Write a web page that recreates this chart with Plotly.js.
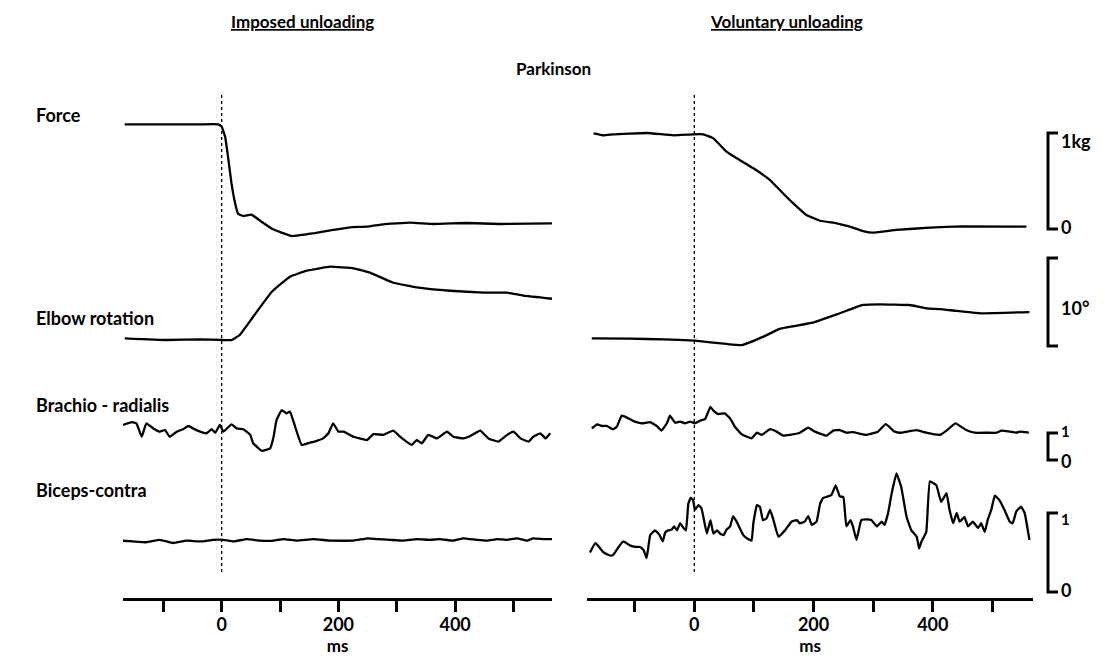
<!DOCTYPE html>
<html>
<head>
<meta charset="utf-8">
<script src="https://cdn.plot.ly/plotly-3.0.1.min.js"></script>
<style>html,body{margin:0;padding:0;background:#fff;}#chart{width:1107px;height:666px;}</style>
</head>
<body>
<div id="chart"></div>
<script>
// ---------------- DATA (time in ms, values in channel units) ----------------
const panelTitles = ["Imposed unloading", "Voluntary unloading"];
const groupTitle = "Parkinson";
const channelNames = ["Force", "Elbow rotation", "Brachio - radialis", "Biceps-contra"];
const tickVals = [-100, 0, 100, 200, 300, 400, 500];
const tickText = ["", "0", "", "200", "", "400", ""];

// Force (kg) – imposed
const forceImpT = [-166,-106,-37,-6,0,6,11,17,23,28,37,51,66,88,120,157,191,220,249,277,323,363,420,477,566];
const forceImpV = [1.09,1.09,1.09,1.09,1.066,0.96,0.75,0.47,0.27,0.16,0.135,0.15,0.086,-0.003,-0.073,-0.045,-0.01,0.018,0.024,0.049,0.066,0.052,0.0625,0.052,0.059];
// Force (kg) – voluntary
const forceVolT = [-169,-152,-136,-80,-35,-2,15,32,54,71,99,127,149,166,188,211,239,261,283,300,339,395,451,557];
const forceVolV = [0.997,0.976,0.986,1.0,0.976,0.986,0.986,0.944,0.805,0.736,0.632,0.51,0.37,0.267,0.146,0.086,0.059,0.024,-0.021,-0.038,-0.01,0.014,0.028,0.024];

// Elbow rotation (deg) – imposed
const elbowImpT = [-166,-94,-37,3,17,31,54,86,117,146,186,226,254,294,334,392,449,489,517,566];
const elbowImpV = [0.87,0.68,0.76,0.68,0.68,1.25,3.33,6.16,7.88,8.56,9.01,8.83,8.33,7.19,6.67,6.28,6.06,6.06,5.72,5.37];
// Elbow rotation (deg) – voluntary
const elbowVolT = [-172,-108,-52,1,54,80,116,144,199,244,283,311,361,389,412,440,479,562];
const elbowVolV = [0.87,0.83,0.76,0.6,0.23,0.11,1.06,1.97,2.65,3.72,4.66,4.74,4.66,4.28,4.2,3.98,3.72,3.86];

// Brachio-radialis EMG – imposed
const brachImpT = [-169,-154,-146,-137,-129,-117,-106,-97,-89,-77,-66,-57,-49,-37,-26,-17,-11,-3,3,17,26,37,49,54,69,83,89,94,103,111,117,126,137,151,163,174,183,191,200,209,226,249,260,277,294,306,326,334,343,354,369,386,397,414,426,443,457,474,489,500,512,526,534,546,555,563];
const brachImpV = [1.30,1.40,1.36,0.86,1.36,1.17,1.05,1.11,0.86,1.05,1.14,1.26,1.17,1.05,0.99,1.14,1.01,1.30,1.05,1.32,1.17,1.14,0.93,0.62,0.34,0.43,0.86,1.48,1.85,1.73,1.79,1.23,0.56,0.64,0.71,0.80,0.99,1.36,1.05,1.05,0.86,0.74,0.96,0.93,1.09,0.86,0.56,0.74,0.62,0.93,0.80,1.05,0.86,0.80,0.89,1.09,0.80,0.68,0.93,1.05,0.80,0.68,0.86,0.99,0.80,0.99];
// Brachio-radialis EMG – voluntary
const brachVolT = [-172,-163,-155,-147,-137,-130,-122,-113,-102,-88,-74,-63,-55,-46,-41,-32,-24,-16,-7,1,10,18,27,32,40,51,60,68,79,96,105,113,127,138,149,160,177,191,202,222,233,244,255,266,289,308,321,336,345,373,389,412,423,438,456,470,490,507,515,529,540,546,561];
const brachVolV = [1.17,1.32,1.26,1.26,1.14,1.23,1.64,1.57,1.44,1.36,1.40,1.26,1.09,1.36,1.64,1.38,1.42,1.36,1.42,1.36,1.46,1.51,1.97,1.83,1.70,1.73,1.54,1.23,0.96,0.80,1.01,0.93,1.14,1.05,0.90,0.93,1.01,1.20,1.05,0.90,1.09,1.11,1.01,1.03,0.93,1.05,1.33,1.05,1.01,1.11,1.01,0.93,1.09,1.36,1.11,1.01,1.01,1.01,1.09,1.05,1.01,1.05,1.01];

// Biceps-contra EMG – imposed
const bicepImpT = [-172,-152,-129,-106,-83,-60,-37,-14,3,20,43,66,89,106,129,157,186,226,251,266,289,311,334,357,374,397,414,437,455,472,489,506,523,534,552,567];
const bicepImpV = [0.65,0.64,0.63,0.66,0.62,0.65,0.64,0.66,0.66,0.64,0.67,0.65,0.65,0.67,0.65,0.67,0.65,0.65,0.68,0.67,0.66,0.65,0.67,0.66,0.67,0.65,0.68,0.66,0.65,0.67,0.66,0.68,0.65,0.68,0.67,0.67];
// Biceps-contra EMG – voluntary
const bicepVolT = [-175,-166,-152,-141,-136,-127,-119,-108,-99,-91,-85,-80,-74,-66,-59,-53,-49,-44,-38,-34,-29,-24,-18,-14,-10,-6,-2,1,7,12,21,27,32,38,43,49,54,60,65,71,82,90,96,99,105,110,115,121,127,132,141,152,163,172,177,185,191,197,205,211,216,224,230,237,244,250,255,262,266,272,280,289,297,306,314,319,325,331,339,347,356,364,373,377,381,389,395,406,414,423,428,434,440,445,453,459,467,476,481,487,492,498,504,512,520,529,534,540,548,554,562];
const bicepVolV = [0.50,0.62,0.50,0.46,0.47,0.57,0.64,0.59,0.57,0.57,0.53,0.43,0.72,0.78,0.73,0.64,0.75,0.78,0.79,0.83,0.78,0.87,0.81,0.78,1.12,1.19,1.16,1.04,1.10,1.06,0.74,0.91,0.74,0.78,0.74,0.72,0.79,0.83,0.96,0.89,0.72,0.67,0.65,0.87,1.10,1.08,0.91,0.93,1.04,0.93,0.70,0.78,0.89,0.91,0.87,0.89,0.96,0.85,0.89,1.12,1.19,1.21,1.23,1.35,1.21,1.20,0.83,0.91,0.83,0.66,0.91,0.92,0.91,0.83,0.89,0.85,1.00,1.25,1.50,1.33,0.95,0.78,0.70,0.55,0.64,0.76,1.40,1.35,1.14,1.25,1.04,0.87,1.00,0.89,0.95,0.83,0.89,0.81,0.87,0.76,0.91,1.04,1.22,1.16,1.04,0.89,0.87,1.02,1.08,1.00,0.66];

// Scale bars (channel units)
const scaleLabels = [["1kg","0"],["10°",""],["1","0"],["1","0"]];
const scaleSpans = [[0,1],[0,10],[0,1],[0,1]];

// ---------------- LAYOUT HELPERS (pixel calibration) ----------------
const W = 1107, H = 666;
const px = x => x / W;
const py = y => 1 - y / H;
// [top px, bottom px, pixel of value 0, pixels per unit]
const rowCal = [[95,245,229,96],[250,355,346,8.8],[395,470,460,27],[470,600,592,79]];
function yAx(c){
  const [top,bot,zero,k] = c;
  return {domain:[py(bot),py(top)], range:[(zero-bot)/k,(zero-top)/k], visible:false, fixedrange:true};
}
const font = "Lato, DejaVu Sans, Arial, sans-serif";
const fw = 'bold';
function xAx(d0,d1,r0,r1){
  return {domain:[px(d0),px(d1)], range:[r0,r1], anchor:'free', position:py(599),
    showline:true, linewidth:3, linecolor:'#000', ticks:'outside', ticklen:11, tickwidth:3, tickcolor:'#000',
    tickmode:'array', tickvals:tickVals, ticktext:tickText, showgrid:false, zeroline:false,
    ticklabelstandoff:-3,
    tickfont:{family:font,size:18,color:'#000',weight:fw},
    title:{text:'ms', font:{family:font,size:17,color:'#000',weight:fw}, standoff:1}, fixedrange:true};
}

const series = [
  [forceImpT,forceImpV,forceVolT,forceVolV],
  [elbowImpT,elbowImpV,elbowVolT,elbowVolV],
  [brachImpT,brachImpV,brachVolT,brachVolV],
  [bicepImpT,bicepImpV,bicepVolT,bicepVolV]
];
const traces = [];
series.forEach((s,i)=>{
  const ya = i===0 ? 'y' : 'y'+(i+1);
  traces.push({x:s[0], y:s[1], xaxis:'x', yaxis:ya, mode:'lines', line:{color:'#000', width:2.3, shape:'spline', smoothing:0.3}, hoverinfo:'skip'});
  traces.push({x:s[2], y:s[3], xaxis:'x2', yaxis:ya, mode:'lines', line:{color:'#000', width:2.3, shape:'spline', smoothing:0.3}, hoverinfo:'skip'});
});

const layout = {
  width:W, height:H, margin:{l:0,r:0,t:0,b:0},
  paper_bgcolor:'#fff', plot_bgcolor:'rgba(0,0,0,0)', showlegend:false,
  font:{family:font, color:'#000', size:18, weight:fw},
  xaxis: xAx(123,552,-169,566),
  xaxis2: xAx(587,1033,-180,568),
  yaxis: yAx(rowCal[0]), yaxis2: yAx(rowCal[1]), yaxis3: yAx(rowCal[2]), yaxis4: yAx(rowCal[3]),
  shapes: [], annotations: []
};
// dotted zero lines
['x','x2'].forEach(xr=>{
  layout.shapes.push({type:'line', xref:xr, yref:'paper', x0:0, x1:0, y0:py(572), y1:py(93), line:{color:'#000', width:1.3, dash:'dot'}});
});
// scale bars
const barX0 = px(1048), barX1 = px(1058);
scaleSpans.forEach((sp,i)=>{
  const yr = i===0 ? 'y' : 'y'+(i+1);
  layout.shapes.push({type:'path', xref:'paper', yref:yr,
    path:`M ${barX1},${sp[1]} L ${barX0},${sp[1]} L ${barX0},${sp[0]} L ${barX1},${sp[0]}`,
    line:{color:'#000', width:3}});
  const [lt,lb] = scaleLabels[i];
  const f = {family:font, size:18, color:'#000', weight:fw};
  const fs = {family:font, size:15, color:'#000', weight:fw};
  if(i===1){
    layout.annotations.push({xref:'paper', yref:yr, x:px(1059), y:(sp[0]+sp[1])/2, text:lt, showarrow:false, xanchor:'left', yanchor:'middle', yshift:-6, font:f});
  } else {
    layout.annotations.push({xref:'paper', yref:yr, x:px(1059), y:sp[1], text:lt, showarrow:false, xanchor:'left', yanchor:'middle', yshift:i===0?-8:(i===2?2:-6), font:i===0?f:fs});
    layout.annotations.push({xref:'paper', yref:yr, x:px(1059), y:sp[0], text:lb, showarrow:false, xanchor:'left', yanchor:'middle', yshift:i===2?-1:2, font:f});
  }
});
// channel names
const namePos = [115, 318, 405, 490];
channelNames.forEach((n,i)=>{
  layout.annotations.push({xref:'paper', yref:'paper', x:px(34), y:py(namePos[i]), text:n, showarrow:false, xanchor:'left', yanchor:'middle', font:{family:font,size:18,weight:fw}});
});
// titles
layout.annotations.push({xref:'paper', yref:'paper', x:px(302), y:py(21), text:'<u>'+panelTitles[0]+'</u>', showarrow:false, xanchor:'center', yanchor:'middle', font:{family:font,size:17,weight:fw}});
layout.annotations.push({xref:'paper', yref:'paper', x:px(786), y:py(21), text:'<u>'+panelTitles[1]+'</u>', showarrow:false, xanchor:'center', yanchor:'middle', font:{family:font,size:17,weight:fw}});
layout.annotations.push({xref:'paper', yref:'paper', x:px(553), y:py(68), text:groupTitle, showarrow:false, xanchor:'center', yanchor:'middle', font:{family:font,size:17,weight:fw}});

Plotly.newPlot('chart', traces, layout, {staticPlot:true, displayModeBar:false});
</script>
</body>
</html>
